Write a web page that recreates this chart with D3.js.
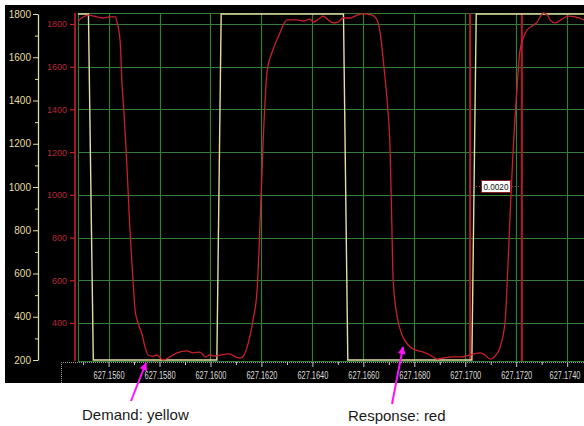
<!DOCTYPE html>
<html>
<head>
<meta charset="utf-8">
<script src="https://cdn.jsdelivr.net/npm/d3@7"></script>
<style>
  html, body { margin: 0; padding: 0; background: #fff; }
  svg { display: block; font-family: "Liberation Sans", Arial, sans-serif; }
</style>
</head>
<body>
<svg id="chart" width="584" height="426"></svg>
<script>
// Demand (square wave) and response samples: time [s], value
const demandTime  = [627.15480, 627.15521, 627.15540, 627.16025, 627.16042, 627.16522, 627.16539, 627.17026, 627.17043, 627.17467];
const demandValue = [1800, 1800, 200, 200, 1800, 1800, 200, 200, 1800, 1800];

const responseTime = [
  627.15480, 627.15500, 627.15520, 627.15555, 627.15578, 627.15606, 627.15626, 627.15633, 627.15645, 627.15653,
  627.15661, 627.15669, 627.15677, 627.15684, 627.15696, 627.15704, 627.15716, 627.15732, 627.15743, 627.15755,
  627.15771, 627.15790, 627.15814, 627.15841, 627.15869, 627.15908, 627.15932, 627.15959, 627.15979, 627.15998,
  627.16018, 627.16038, 627.16077, 627.16097, 627.16116, 627.16132, 627.16144, 627.16156, 627.16167, 627.16183,
  627.16195, 627.16207, 627.16222, 627.16242, 627.16269, 627.16301, 627.16340, 627.16364, 627.16391, 627.16403,
  627.16430, 627.16442, 627.16462, 627.16481, 627.16501, 627.16521, 627.16548, 627.16576, 627.16599, 627.16635,
  627.16654, 627.16666, 627.16682, 627.16693, 627.16705, 627.16711, 627.16717, 627.16733, 627.16752, 627.16776,
  627.16803, 627.16835, 627.16862, 627.16890, 627.16913, 627.16949, 627.16980, 627.17019, 627.17059, 627.17078,
  627.17098, 627.17117, 627.17137, 627.17157, 627.17165, 627.17176, 627.17188, 627.17204, 627.17215, 627.17243,
  627.17263, 627.17282, 627.17294, 627.17306, 627.17322, 627.17333, 627.17353, 627.17380, 627.17404, 627.17432,
  627.17467
];
const responseValue = [
  1814, 1833, 1842, 1833, 1828, 1833, 1833, 1809, 1725, 1514,
  1374, 1210, 1009, 835, 601, 461, 400, 344, 288, 250,
  245, 250, 227, 241, 260, 269, 260, 264, 241, 250,
  245, 250, 255, 241, 236, 250, 288, 344, 414, 554,
  882, 1257, 1575, 1669, 1748, 1819, 1819, 1814, 1823, 1809,
  1828, 1837, 1819, 1805, 1809, 1828, 1828, 1842, 1847, 1842,
  1819, 1758, 1585, 1444, 1210, 906, 601, 428, 344, 297,
  274, 264, 250, 231, 236, 241, 241, 250, 260, 250,
  231, 245, 288, 414, 601, 906, 1210, 1514, 1678, 1772,
  1791, 1809, 1833, 1852, 1842, 1819, 1805, 1823, 1837, 1833,
  1819
];

// Measurement cursors
const cursorTimes = [627.17019, 627.17222];

// Axis ticks
const timeMajorTicks = [627.1560, 627.1580, 627.1600, 627.1620, 627.1640, 627.1660, 627.1680, 627.1700, 627.1720, 627.1740];
const timeMinorTicks = [627.1550, 627.1570, 627.1590, 627.1610, 627.1630, 627.1650, 627.1670, 627.1690, 627.1710, 627.1730];
const demandTicks    = [200, 400, 600, 800, 1000, 1200, 1400, 1600, 1800];
const demandMinor    = [300, 500, 700, 900, 1100, 1300, 1500, 1700];
const responseTicks  = [400, 600, 800, 1000, 1200, 1400, 1600, 1800];

// Colours
const BG = "#000000", GRID = "#357c35", YEL = "#e2dea0", RED = "#c8202c",
      RED_TXT = "#b8283a", AXIS_TXT = "#dcdcdc", MAGENTA = "#ff10ff";
const FONT = "Liberation Sans, Arial, sans-serif";

const svg = d3.select("#chart");

// Plot geometry
const plot = { left: 78, top: 13, right: 584, bottom: 361 };

const x = d3.scaleLinear().domain([627.1548, 627.1747]).range([78, 585]);
const yDemand = d3.scaleLinear().domain([200, 1800]).range([360, 14]);
const yResp = d3.scaleLinear().domain([200, 1800]).range([365.7, 24]);
const intFmt = d3.format("d");

// Dark panel
svg.append("rect").attr("x", 5).attr("y", 5).attr("width", 579).attr("height", 378).attr("fill", BG);

// Grid
const grid = svg.append("g").attr("stroke", GRID).attr("stroke-width", 1.2).attr("fill", "none");
grid.selectAll("line.v").data(timeMajorTicks).join("line")
  .attr("x1", d => Math.round(x(d)) + 0.5).attr("x2", d => Math.round(x(d)) + 0.5)
  .attr("y1", plot.top).attr("y2", plot.bottom);
grid.selectAll("line.h").data(responseTicks).join("line")
  .attr("x1", plot.left).attr("x2", plot.right)
  .attr("y1", d => Math.round(yResp(d)) + 0.5).attr("y2", d => Math.round(yResp(d)) + 0.5);
grid.append("line").attr("x1", plot.left + 0.5).attr("x2", plot.left + 0.5).attr("y1", plot.top).attr("y2", plot.bottom);
grid.append("line").attr("x1", plot.left).attr("x2", plot.right).attr("y1", plot.top + 0.5).attr("y2", plot.top + 0.5);
grid.append("line").attr("x1", plot.left).attr("x2", plot.right).attr("y1", plot.bottom + 0.5).attr("y2", plot.bottom + 0.5);

// Time axis frame (dotted)
svg.append("path")
  .attr("d", `M61.5,383 V362.5 H584`)
  .attr("fill", "none").attr("stroke", "#9a9a9a").attr("stroke-width", 1).attr("stroke-dasharray", "1,1");

// Time axis
const xAxis = svg.append("g").attr("transform", "translate(0,362)")
  .call(d3.axisBottom(x).tickValues(timeMajorTicks).tickSize(5).tickPadding(5).tickFormat(d3.format(".4f")));
const xMinor = svg.append("g").attr("transform", "translate(0,362)")
  .call(d3.axisBottom(x).tickValues(timeMinorTicks).tickSize(3).tickFormat(""));
[xAxis, xMinor].forEach(g => {
  g.select(".domain").remove();
  g.selectAll(".tick line").attr("stroke", "#c8c8c8");
});
xAxis.selectAll(".tick text")
  .attr("fill", AXIS_TXT).attr("font-size", 10).attr("font-family", FONT)
  .attr("textLength", 31).attr("lengthAdjust", "spacingAndGlyphs");
// keep the last label inside the panel's right edge
xAxis.selectAll(".tick text").filter((d, i, n) => i === n.length - 1)
  .attr("text-anchor", "end").attr("x", d => 580 - x(d));

// Demand axis (left, yellow)
const yA = svg.append("g").attr("transform", "translate(38,0)")
  .call(d3.axisLeft(yDemand).tickValues(demandTicks).tickSize(5).tickSizeOuter(0).tickPadding(2).tickFormat(intFmt));
const yAm = svg.append("g").attr("transform", "translate(38,0)")
  .call(d3.axisLeft(yDemand).tickValues(demandMinor).tickSize(3).tickSizeOuter(0).tickFormat(""));
yAm.select(".domain").remove();
yA.select(".domain").attr("stroke", YEL).attr("stroke-width", 1.3);
[yA, yAm].forEach(g => g.selectAll(".tick line").attr("stroke", YEL));
yA.selectAll(".tick text")
  .attr("fill", YEL).attr("font-size", 10).attr("font-family", FONT);

// Response axis (red)
const yB = svg.append("g").attr("transform", "translate(75,0)")
  .call(d3.axisLeft(yResp).tickValues(responseTicks).tickSize(5).tickPadding(3).tickFormat(intFmt));
yB.select(".domain").remove();
yB.selectAll(".tick line").attr("stroke", RED).attr("stroke-width", 1.2);
yB.selectAll(".tick text")
  .attr("fill", RED_TXT).attr("font-size", 9).attr("font-family", FONT);
svg.append("line").attr("x1", 75).attr("x2", 75).attr("y1", plot.top).attr("y2", plot.bottom)
  .attr("stroke", RED).attr("stroke-width", 1.6);

// Cursor lines
svg.selectAll("line.cursor").data(cursorTimes).join("line")
  .attr("class", "cursor")
  .attr("x1", d => x(d)).attr("x2", d => x(d))
  .attr("y1", plot.top).attr("y2", plot.bottom)
  .attr("stroke", "#b41c28").attr("stroke-width", 2);

// Demand trace
const demand = demandTime.map((t, i) => [t, demandValue[i]]);
svg.append("path").datum(demand)
  .attr("d", d3.line().x(d => x(d[0])).y(d => yDemand(d[1])))
  .attr("fill", "none").attr("stroke", YEL).attr("stroke-width", 1.4);

// Response trace
const response = responseTime.map((t, i) => [t, responseValue[i]]);
svg.append("path").datum(response)
  .attr("d", d3.line().curve(d3.curveMonotoneX).x(d => x(d[0])).y(d => yResp(d[1])))
  .attr("fill", "none").attr("stroke", RED).attr("stroke-width", 1.3);

// Cursor delta readout
const cy = 186.5;
const cx0 = x(cursorTimes[0]), cx1 = x(cursorTimes[1]), cmid = (cx0 + cx1) / 2;
svg.append("line").attr("x1", cx0).attr("x2", cx1).attr("y1", cy).attr("y2", cy)
  .attr("stroke", "#b04050").attr("stroke-width", 1).attr("stroke-dasharray", "1,2");
svg.append("rect").attr("x", cmid - 14.5).attr("y", 180.5).attr("width", 29).attr("height", 12)
  .attr("fill", "#ffffff").attr("stroke", "#8a1c24").attr("stroke-width", 1);
svg.append("text").attr("x", cmid).attr("y", 190)
  .attr("text-anchor", "middle").attr("font-size", 9).attr("fill", "#111").attr("font-family", FONT)
  .attr("textLength", 25).attr("lengthAdjust", "spacingAndGlyphs")
  .text(d3.format(".4f")(cursorTimes[1] - cursorTimes[0]));

// Annotations
const defs = svg.append("defs");
defs.append("marker").attr("id", "head").attr("viewBox", "0 0 10 10")
  .attr("refX", 9).attr("refY", 5).attr("markerWidth", 4).attr("markerHeight", 4)
  .attr("orient", "auto").attr("markerUnits", "strokeWidth")
  .append("path").attr("d", "M0,0 L10,5 L0,10 z").attr("fill", MAGENTA);

const notes = [
  { text: "Demand: yellow", tx: 82, ty: 420, from: [131, 401], to: [146, 363] },
  { text: "Response: red", tx: 348, ty: 421, from: [392, 404], to: [403, 347] }
];
notes.forEach(n => {
  svg.append("line").attr("x1", n.from[0]).attr("y1", n.from[1]).attr("x2", n.to[0]).attr("y2", n.to[1])
    .attr("stroke", MAGENTA).attr("stroke-width", 2).attr("marker-end", "url(#head)");
  svg.append("text").attr("x", n.tx).attr("y", n.ty).attr("font-size", 15).attr("fill", "#1a1a1a")
    .attr("font-family", FONT).text(n.text);
});
</script>
</body>
</html>
